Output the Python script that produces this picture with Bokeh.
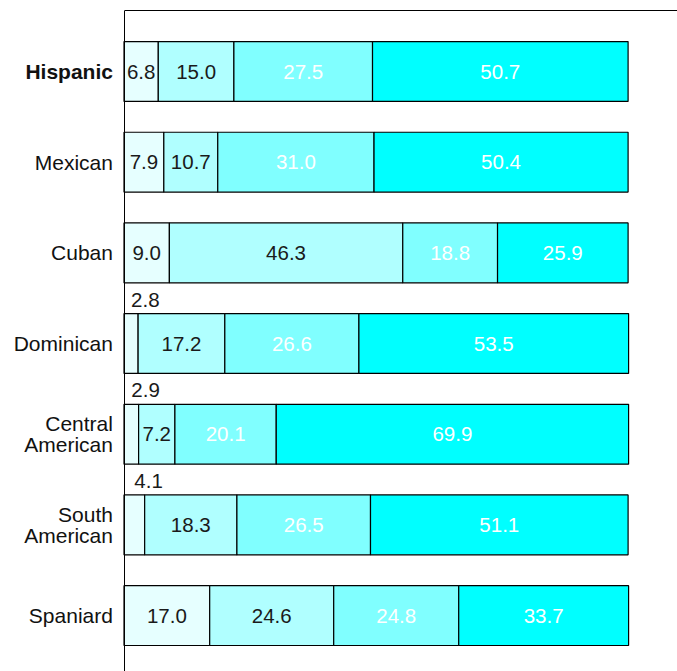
from bokeh.plotting import figure
from bokeh.models import ColumnDataSource
from bokeh.core.properties import value
from bokeh.embed import file_html
from bokeh.resources import INLINE

categories = ["Hispanic", "Mexican", "Cuban", "Dominican", "Central\nAmerican", "South\nAmerican", "Spaniard"]
s1 = [6.8, 7.9, 9.0, 2.8, 2.9, 4.1, 17.0]
s2 = [15.0, 10.7, 46.3, 17.2, 7.2, 18.3, 24.6]
s3 = [27.5, 31.0, 18.8, 26.6, 20.1, 26.5, 24.8]
s4 = [50.7, 50.4, 25.9, 53.5, 69.9, 51.1, 33.7]
series = [s1, s2, s3, s4]
colors = ["#e6ffff", "#b0ffff", "#80ffff", "#00ffff"]
text_colors = ["#1a1a1a", "#1a1a1a", "#ffffff", "#ffffff"]

FONT = "Liberation Sans"
n = len(categories)
ypos = [n - 1 - i for i in range(n)]
X0, X1 = -24.5, 109.8

p = figure(width=677, height=671, output_backend="svg", toolbar_location=None,
           x_range=(X0, X1), y_range=(-0.617, n - 1 + 0.673),
           x_axis_location="above", min_border_left=0, min_border_right=0,
           min_border_top=10, min_border_bottom=0)
p.outline_line_color = None
p.grid.visible = False
for ax in (p.xaxis[0], p.yaxis[0]):
    ax.ticker = []
    ax.major_tick_line_color = None
    ax.minor_tick_line_color = None
    ax.major_label_standoff = 0
    ax.major_tick_out = 0
    ax.major_tick_in = 0
    ax.minor_tick_out = 0
    ax.minor_tick_in = 0
    ax.axis_line_color = "black"
    ax.axis_line_width = 1
p.xaxis[0].bounds = (0, X1)
p.yaxis[0].fixed_location = 0

left = [0.0] * n
for k, s in enumerate(series):
    right = [l + v for l, v in zip(left, s)]
    src = ColumnDataSource(dict(y=ypos, left=left, right=right, val=s))
    p.hbar(y="y", left="left", right="right", height=0.66, source=src,
           fill_color=colors[k], line_color="black", line_width=1.2)
    inx, iny, intx = [], [], []
    abx, aby, abt = [], [], []
    for l, v, y in zip(left, s, ypos):
        if v < 5:
            abx.append(l + v / 2)
            aby.append(y + 0.33)
            abt.append(f"{v:.1f}")
        else:
            inx.append(l + v / 2)
            iny.append(y)
            intx.append(f"{v:.1f}")
    p.text(x=inx, y=iny, text=intx, text_align="center", text_baseline="middle",
           text_font=value(FONT), text_font_size="20.5px", text_color=text_colors[k])
    if abx:
        p.text(x=abx, y=aby, text=abt, text_align="left", text_baseline="bottom",
               y_offset=-7, text_font=value(FONT), text_font_size="20.5px",
               text_color="#1a1a1a")
    left = right

for bold in (True, False):
    cx = [-2.2 for c in categories if (c == "Hispanic") == bold]
    cy = [y for c, y in zip(categories, ypos) if (c == "Hispanic") == bold]
    ct = [c for c in categories if (c == "Hispanic") == bold]
    p.text(x=cx, y=cy, text=ct, text_align="right", text_baseline="middle",
           text_font=value(FONT), text_font_size="21px", text_line_height=0.92,
           text_font_style="bold" if bold else "normal", text_color="#111111")

open("out.html", "w").write(file_html(p, INLINE))
